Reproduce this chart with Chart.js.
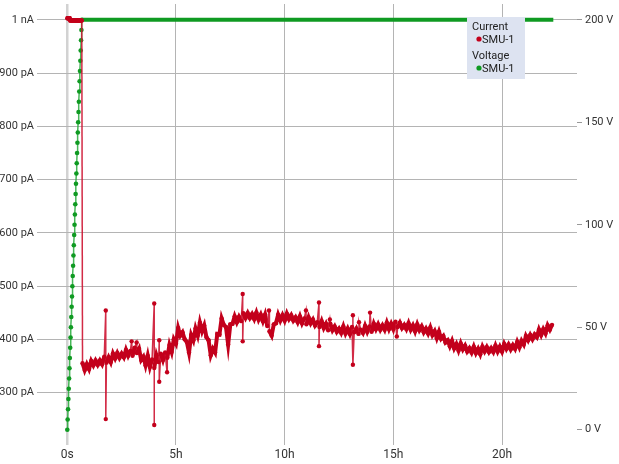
<!DOCTYPE html>
<html>
<head>
<meta charset="utf-8">
<script src="https://cdn.jsdelivr.net/npm/chart.js@4.4.1/dist/chart.umd.min.js"></script>
<style>
  html, body { margin: 0; padding: 0; background: #fff; }
  #myChart { display: block; }
</style>
</head>
<body>
<canvas id="myChart" width="619" height="464"></canvas>
<script>
// Ramp: one point per minute (0 .. 40 min)
const rampMinutes = [0,1,2,3,4,5,6,7,8,9,10,11,12,13,14,15,16,17,18,19,20,
                     21,22,23,24,25,26,27,28,29,30,31,32,33,34,35,36,37,38,39,40];
const rampVolts = [0,5,10,15,20,25,30,35,40,45,50,55,60,65,70,75,80,85,90,95,100,
                   105,110,115,120,125,130,135,140,145,150,155,160,165,170,175,180,185,190,195,200];
// current during ramp sits at the 1 nA limit (pA)
const rampCurrent = [1003,1003,1003,1003,1003,1003,1003,1003,999,999,999,999,999,999,999,999,999,999,999,999,999,
                     999,999,999,999,999,999,999,999,999,999,999,999,999,999,999,999,999,999,999,999];

// hold at 200 V until end of measurement (h)
const holdEndH = 22.36;
const holdVolts = 200;

// current while holding, sampled every 0.1 h starting at 0.7 h (pA)
const bandStartH = 0.7;
const bandStepH = 0.1;
const bandCurrent = [
  355,342,353,344,359,351,360,352,360,353, 367,356,366,357,373,364,374,365,373,366,
  380,369,378,369,384,374,382,361,367,351, 369,348,362,346,370,357,373,361,375,365,
  389,376,400,392,421,407,413,400,395,375, 408,398,420,407,431,415,426,404,398,370,
  382,375,410,409,439,427,423,390,428,429, 443,432,442,434,449,440,449,440,447,438,
  450,437,446,434,446,425,415,407,428,430, 446,435,445,435,448,438,445,435,441,432,
  443,430,439,428,441,430,437,426,432,423, 434,421,429,417,429,417,424,414,420,412,
  424,411,420,410,423,413,420,410,418,412, 425,414,424,414,429,419,428,418,426,418,
  431,419,429,419,433,423,431,421,427,419, 430,418,426,415,428,417,424,413,420,411,
  422,408,415,402,414,401,406,394,398,387, 397,383,391,379,392,381,388,377,383,375,
  386,374,382,372,386,377,385,376,383,376, 388,377,386,377,391,382,390,381,389,382,
  395,385,397,390,406,398,408,400,409,404, 418,408,419,411,426,418,427
];

// short outliers: time (h), upper and lower value (pA)
const spikeTimes = [1.77, 2.96, 3.19, 4.00, 4.23, 4.59, 8.07, 9.28, 10.98, 11.58, 12.08, 13.14, 13.42, 13.93, 15.16];
const spikeHigh  = [454,  396,  394,  467,  398,  null, 485,  454,  454,   469,   437,   445,   432,   450,   null];
const spikeLow   = [250,  null, null, 239,  320,  338,  396,  null, null,  387,   null,  352,   null,  null,  405];

// axis ticks
const timeTicks = [0, 5, 10, 15, 20];
const timeLabels = ['0s', '5h', '10h', '15h', '20h'];
const currentTicks = [300, 400, 500, 600, 700, 800, 900, 1000];
const currentLabels = ['300 pA', '400 pA', '500 pA', '600 pA', '700 pA', '800 pA', '900 pA', '1 nA'];
const voltTicks = [0, 50, 100, 150, 200];
const voltLabels = ['0 V', '50 V', '100 V', '150 V', '200 V'];

const redDot = '#c3001c';
const redLine = 'rgba(205, 20, 50, 0.9)';
const greenDot = '#0f9a22';
const greenLine = 'rgba(40, 170, 60, 0.85)';

// Strom-Datenreihe zusammenbauen
const currentData = [];
rampMinutes.forEach((m, i) => currentData.push({ x: m / 60, y: rampCurrent[i] }));
let s = 0;
bandCurrent.forEach((v, i) => {
    const t = Math.round((bandStartH + i * bandStepH) * 100) / 100;
    while (s < spikeTimes.length && spikeTimes[s] <= t) {
        if (spikeHigh[s] !== null) currentData.push({ x: spikeTimes[s], y: spikeHigh[s], spike: true });
        if (spikeLow[s] !== null) currentData.push({ x: spikeTimes[s], y: spikeLow[s], spike: true });
        s++;
    }
    currentData.push({ x: t, y: v });
});

// Spannungs-Datenreihe
const voltData = rampMinutes.map((m, i) => ({ x: m / 60, y: rampVolts[i] }));
voltData.push({ x: holdEndH, y: holdVolts });
const rampLen = rampMinutes.length;

// thin line for the outliers and the drop after the ramp
const thinSeg = c => currentData[c.p0DataIndex].spike || currentData[c.p1DataIndex].spike || c.p1DataIndex === rampLen;

function fixTicks(values) {
    return scale => { scale.ticks = values.map(v => ({ value: v })); };
}
function noPad(sc) {
    sc.paddingTop = 0; sc.paddingBottom = 0; sc.paddingLeft = 0; sc.paddingRight = 0;
}

// Legende im Diagramm (Current / Voltage)
const boxLegend = {
    id: 'boxLegend',
    afterDatasetsDraw(chart) {
        const c = chart.ctx;
        c.save();
        c.fillStyle = '#dde3f1';
        c.fillRect(467, 17, 58, 62);
        c.font = '11px Roboto';
        c.fillStyle = '#222';
        c.textBaseline = 'alphabetic';
        c.fillText('Current', 472, 30);
        c.fillText('SMU-1', 482, 43);
        c.fillText('Voltage', 472, 59);
        c.fillText('SMU-1', 482, 72);
        c.fillStyle = redDot;
        c.beginPath(); c.arc(479, 39, 2.6, 0, Math.PI * 2); c.fill();
        c.fillStyle = greenDot;
        c.beginPath(); c.arc(479, 68, 2.6, 0, Math.PI * 2); c.fill();
        c.restore();
    }
};

Chart.defaults.font.family = 'Roboto';
Chart.defaults.color = '#333';

const ctx = document.getElementById('myChart').getContext('2d');
new Chart(ctx, {
    type: 'line',
    data: {
        datasets: [{
            label: 'Current SMU-1',
            data: currentData,
            yAxisID: 'yI',
            borderColor: redDot,
            borderWidth: 3.5,
            pointRadius: 2.2,
            pointBorderWidth: 0,
            pointBackgroundColor: redDot,
            segment: {
                borderWidth: c => thinSeg(c) ? 1.5 : 4,
                borderColor: c => thinSeg(c) ? redLine : redDot
            },
            tension: 0
        }, {
            label: 'Voltage SMU-1',
            data: voltData,
            yAxisID: 'yV',
            borderColor: greenLine,
            borderWidth: 1.5,
            pointRadius: c => c.dataIndex < rampLen ? 2.3 : 0,
            pointBorderWidth: 0,
            pointBackgroundColor: greenDot,
            segment: {
                borderWidth: c => c.p1DataIndex >= rampLen ? 4 : 1.5,
                borderColor: c => c.p1DataIndex >= rampLen ? greenDot : greenLine
            },
            tension: 0
        }]
    },
    options: {
        responsive: false,
        animation: false,
        layout: { padding: 0 },
        plugins: { legend: { display: false }, tooltip: { enabled: false } },
        scales: {
            x: {
                type: 'linear',
                min: -1.394,
                max: 23.45,
                afterBuildTicks: fixTicks(timeTicks),
                afterFit: sc => { sc.height = 19; noPad(sc); },
                ticks: {
                    padding: 3,
                    maxRotation: 0,
                    autoSkip: false,
                    font: { size: 12 },
                    callback: (v, i) => timeLabels[i]
                },
                grid: {
                    drawTicks: false,
                    color: c => c.tick && c.tick.value === 0 ? '#d2d2d2' : '#b4b4b4',
                    lineWidth: c => c.tick && c.tick.value === 0 ? 2.5 : 1
                },
                border: { display: false }
            },
            yI: {
                type: 'linear',
                position: 'left',
                min: 201.3,
                max: 1029.8,
                afterBuildTicks: fixTicks(currentTicks),
                afterFit: sc => { sc.width = 37; noPad(sc); },
                ticks: {
                    padding: 3,
                    autoSkip: false,
                    font: { size: 11 },
                    callback: (v, i) => currentLabels[i]
                },
                grid: { drawTicks: false, color: '#b4b4b4' },
                border: { display: false }
            },
            yV: {
                type: 'linear',
                position: 'right',
                min: -7.44,
                max: 207.7,
                afterBuildTicks: fixTicks(voltTicks),
                afterFit: sc => { sc.width = 42; noPad(sc); },
                ticks: {
                    padding: 3,
                    autoSkip: false,
                    font: { size: 11 },
                    callback: (v, i) => voltLabels[i]
                },
                grid: { drawOnChartArea: false, drawTicks: true, tickLength: 5, color: '#999' },
                border: { display: false }
            }
        }
    },
    plugins: [boxLegend]
});
</script>
</body>
</html>
